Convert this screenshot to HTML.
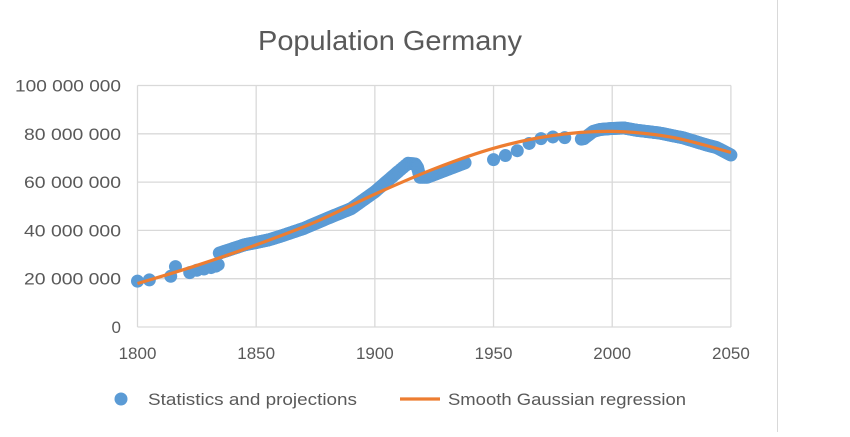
<!DOCTYPE html>
<html><head><meta charset="utf-8"><style>
body{margin:0;background:#fff;}
svg text{font-family:"Liberation Sans",sans-serif;fill:#595959;}
</style></head><body>
<svg id="s" width="850" height="432" xmlns="http://www.w3.org/2000/svg">
<rect width="850" height="432" fill="#fff"/>
<line x1="777.5" y1="0" x2="777.5" y2="432" stroke="#d9d9d9" stroke-width="1"/>
<text x="258" y="50" font-size="28" textLength="264" lengthAdjust="spacingAndGlyphs">Population Germany</text>
<g id="grid" stroke="#d9d9d9" stroke-width="1.3"></g>
<g id="lab" font-size="17"></g>
<g id="pts" fill="#5b9bd5"></g>
<path id="fit" fill="none" stroke="#ed7d31" stroke-width="3.2"/>
<circle cx="121" cy="399" r="6.5" fill="#5b9bd5"/>
<text x="148" y="405" font-size="17" textLength="209" lengthAdjust="spacingAndGlyphs">Statistics and projections</text>
<line x1="400" y1="399" x2="440" y2="399" stroke="#ed7d31" stroke-width="3.2"/>
<text x="448" y="405" font-size="17" textLength="238" lengthAdjust="spacingAndGlyphs">Smooth Gaussian regression</text>
</svg>
<script>
var X=function(y){return 137.5+(y-1800)*2.3736;},Y=function(p){return 327-p*2.415;};
var g=document.getElementById('grid'),l=document.getElementById('lab'),ns='http://www.w3.org/2000/svg';
function el(p,t,a){var e=document.createElementNS(ns,t);for(var k in a)e.setAttribute(k,a[k]);p.appendChild(e);return e;}
for(var i=0;i<=5;i++){var y=Y(i*20);el(g,'line',{x1:137.5,x2:731,y1:y,y2:y});
var t=el(l,'text',{x:121,y:y+6,'text-anchor':'end'});t.textContent=i==0?'0':(i*20)+' 000 000';
if(i>0){t.setAttribute('textLength',i==5?106:97);t.setAttribute('lengthAdjust','spacingAndGlyphs');}}
for(var yr=1800;yr<=2050;yr+=50){var x=X(yr);el(g,'line',{x1:x,x2:x,y1:Y(100),y2:Y(0)});
var t=el(l,'text',{x:x,y:359,'text-anchor':'middle'});t.textContent=yr;}
var d=[[1800,19],[1805,19.5],[1814,21],[1816,25],[1822,22.5],[1825,23.5],[1828,24],[1831,24.6],[1833,25.2],[1834,25.8],[1834.5,30.6]];
var k=[[1834.5,30.6],[1845,34],[1850,35],[1855,36],[1860,37.5],[1870,40.8],[1880,45],[1890,49],[1900,56],[1910,64.5],[1914,67.8],[1917,67.5],[1918,66],[1919,62],[1922,62],[1930,65],[1938,68]];
for(var j=0;j<k.length-1;j++){var a=k[j],b=k[j+1];if(b[0]-a[0]>4&&!(a[0]==1918)){for(var s=0;s<1;s+=0.5/(b[0]-a[0]))d.push([a[0]+(b[0]-a[0])*s,a[1]+(b[1]-a[1])*s]);}else{for(var s=0;s<1;s+=0.25)d.push([a[0]+(b[0]-a[0])*s,a[1]+(b[1]-a[1])*s]);}}
d.push([1938,68],[1950,69.3],[1955,71],[1960,73],[1965,76],[1970,78],[1975,78.7],[1980,78.4],[1987,77.8],[1988,78]);
var m=[[1988,78],[1990,79.5],[1992,81],[1995,81.8],[2000,82.2],[2005,82.4],[2010,81.5],[2020,80.3],[2030,78.3],[2040,75.3],[2044,74.3],[2050,71.2]];
for(var j=0;j<m.length-1;j++){var a=m[j],b=m[j+1];for(var s=0;s<1;s+=0.5/(b[0]-a[0]))d.push([a[0]+(b[0]-a[0])*s,a[1]+(b[1]-a[1])*s]);}
d.push([2050,71.2]);
var p=document.getElementById('pts');d.forEach(function(q){el(p,'circle',{cx:X(q[0]),cy:Y(q[1]),r:6.5});});
var f=[[1800,18],[1825,25.5],[1850,34],[1875,43.5],[1900,55],[1925,65.5],[1950,74],[1975,79.3],[2000,81],[2025,78.6],[2050,72.3]];
var ps='M'+X(f[0][0])+','+Y(f[0][1]);
for(var j=0;j<f.length-1;j++){var p0=f[Math.max(j-1,0)],p1=f[j],p2=f[j+1],p3=f[Math.min(j+2,f.length-1)];
ps+=' C'+(X(p1[0])+(X(p2[0])-X(p0[0]))/6)+','+(Y(p1[1])+(Y(p2[1])-Y(p0[1]))/6)+' '+(X(p2[0])-(X(p3[0])-X(p1[0]))/6)+','+(Y(p2[1])-(Y(p3[1])-Y(p1[1]))/6)+' '+X(p2[0])+','+Y(p2[1]);}
document.getElementById('fit').setAttribute('d',ps);
</script>
</body></html>
